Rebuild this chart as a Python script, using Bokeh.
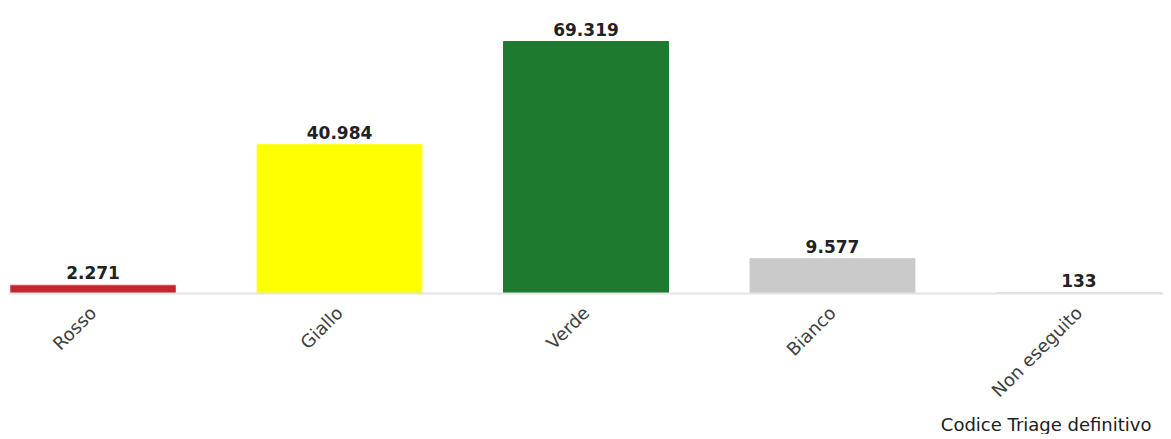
from bokeh.plotting import figure
from bokeh.models import ColumnDataSource, Range1d, FixedTicker, Title
from bokeh.embed import file_html
from bokeh.resources import INLINE
from bokeh.core.properties import value
import math

categories = ["Rosso", "Giallo", "Verde", "Bianco", "Non eseguito"]
counts = [2271, 40984, 69319, 9577, 133]
colors = ["#c1272d", "#ffff00", "#1d7a2f", "#cacaca", "#e6e6e6"]
edge_colors = ["#d9505a", "#ffff33", "#1d7a2f", "#cacaca", "#b8b8b8"]
labels = ["{:,}".format(v).replace(",", ".") for v in counts]
xs = list(range(len(categories)))

src = ColumnDataSource(dict(x=xs, top=counts, color=colors, edge=edge_colors, label=labels))

p = figure(width=1171, height=431, output_backend="svg", toolbar_location=None,
           x_range=Range1d(-0.343, 4.343), y_range=Range1d(0, 78400),
           y_axis_location=None, min_border_left=8, min_border_right=8,
           min_border_top=8, min_border_bottom=0, frame_height=285, frame_width=1155)
p.outline_line_color = None
p.xgrid.grid_line_color = None
p.ygrid.grid_line_color = None
p.background_fill_color = "white"

p.vbar(x="x", top="top", width=0.669, bottom=0, fill_color="color", line_color="edge",
       line_width=1, source=src)
p.text(x="x", y="top", text="label", source=src, text_align="center", text_baseline="bottom",
       y_offset=-6, text_font=value("DejaVu Sans"), text_font_style="bold",
       text_font_size="17px", text_color="#222222")

ax = p.xaxis[0]
ax.ticker = FixedTicker(ticks=xs)
ax.major_label_overrides = {i: c for i, c in enumerate(categories)}
ax.major_label_orientation = math.pi / 4
ax.major_label_text_font = "DejaVu Sans"
ax.major_label_text_font_size = "18px"
ax.major_label_text_color = "#404040"
ax.axis_line_color = "#e4e4e4"
ax.axis_line_width = 2
ax.major_tick_line_color = None
ax.minor_tick_line_color = None
ax.major_label_standoff = 10

p.add_layout(Title(text="Codice Triage definitivo", align="right", text_font="DejaVu Sans",
                   text_font_size="18px", text_font_style="normal", text_color="#202020",
                   offset=12, standoff=0), "below")

open("out.html", "w").write(file_html(p, INLINE))
